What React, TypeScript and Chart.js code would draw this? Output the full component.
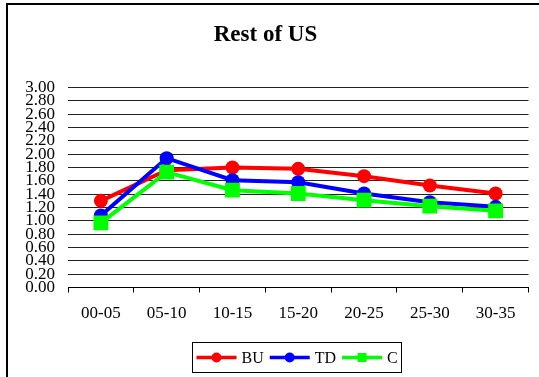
import React, { useEffect, useRef } from "react";
import { Chart, registerables } from "chart.js";

Chart.register(...registerables);

const chartTitle = "Rest of US";
const categories = ["00-05", "05-10", "10-15", "15-20", "20-25", "25-30", "30-35"];
const buValues = [1.3, 1.76, 1.8, 1.78, 1.67, 1.53, 1.41];
const tdValues = [1.08, 1.94, 1.61, 1.58, 1.41, 1.28, 1.21];
const cValues = [0.97, 1.73, 1.46, 1.41, 1.31, 1.22, 1.15];
const yTicks = [0, 0.2, 0.4, 0.6, 0.8, 1.0, 1.2, 1.4, 1.6, 1.8, 2.0, 2.2, 2.4, 2.6, 2.8, 3.0];

const SERIF = "'Liberation Serif', 'Times New Roman', serif";

const boxLegend = {
  id: "boxLegend",
  afterDraw(chart: any) {
    const ctx = chart.ctx as CanvasRenderingContext2D;
    const area = chart.chartArea;
    ctx.save();
    ctx.font = "16px " + SERIF;
    const items = chart.data.datasets.map((ds: any) => ({
      label: ds.label,
      color: ds.borderColor,
      style: ds.pointStyle,
    }));
    const sample = 40;
    const gapText = 5;
    const gapItem = 6;
    const padX = 4;
    const widths = items.map((it: any) => sample + gapText + ctx.measureText(it.label).width);
    const total =
      widths.reduce((a: number, b: number) => a + b, 0) + gapItem * (items.length - 1) + padX * 2;
    const boxX = Math.round((area.left + area.right) / 2 - total / 2) - 2 + 0.5;
    const boxY = 342.5;
    const boxH = 30;
    ctx.strokeStyle = "#000";
    ctx.lineWidth = 1;
    ctx.strokeRect(boxX, boxY, Math.round(total), boxH);
    let x = boxX + padX;
    const cy = boxY + boxH / 2;
    items.forEach((it: any, i: number) => {
      ctx.strokeStyle = it.color;
      ctx.lineWidth = 3.5;
      ctx.beginPath();
      ctx.moveTo(x, cy);
      ctx.lineTo(x + sample, cy);
      ctx.stroke();
      ctx.fillStyle = it.color;
      if (it.style === "rect") {
        ctx.fillRect(x + sample / 2 - 4.5, cy - 4.5, 9, 9);
      } else {
        ctx.beginPath();
        ctx.arc(x + sample / 2, cy, 5, 0, Math.PI * 2);
        ctx.fill();
      }
      ctx.fillStyle = "#000";
      ctx.textBaseline = "middle";
      ctx.textAlign = "left";
      ctx.fillText(it.label, x + sample + gapText, cy + 1);
      x += widths[i] + gapItem;
    });
    ctx.restore();
  },
};

export default function App() {
  const canvasRef = useRef<HTMLCanvasElement | null>(null);

  useEffect(() => {
    const canvas = canvasRef.current;
    if (!canvas) return;
    const chart = new Chart(canvas, {
      type: "line",
      data: {
        labels: categories,
        datasets: [
          {
            label: "BU",
            data: buValues,
            borderColor: "#FF0000",
            backgroundColor: "#FF0000",
            pointBackgroundColor: "#FF0000",
            pointBorderColor: "#FF0000",
            pointStyle: "circle",
            pointRadius: 7,
            pointBorderWidth: 0,
            borderWidth: 4,
            tension: 0,
            order: 2,
          },
          {
            label: "TD",
            data: tdValues,
            borderColor: "#0000FF",
            backgroundColor: "#0000FF",
            pointBackgroundColor: "#0000FF",
            pointBorderColor: "#0000FF",
            pointStyle: "circle",
            pointRadius: 7,
            pointBorderWidth: 0,
            borderWidth: 4,
            tension: 0,
            order: 1,
          },
          {
            label: "C",
            data: cValues,
            borderColor: "#00FF00",
            backgroundColor: "#00FF00",
            pointBackgroundColor: "#00FF00",
            pointBorderColor: "#00FF00",
            pointStyle: "rect",
            pointRadius: 10.5,
            pointBorderWidth: 0,
            borderWidth: 4,
            tension: 0,
            order: 0,
          },
        ],
      },
      options: {
        animation: false,
        responsive: false,
        maintainAspectRatio: false,
        layout: { padding: { left: 0, right: 8, top: 0, bottom: 50 } },
        plugins: {
          legend: { display: false },
          tooltip: { enabled: false },
          title: {
            display: true,
            text: chartTitle,
            color: "#000",
            font: { family: SERIF, size: 23, weight: "bold" },
            padding: { top: 21.6, bottom: 38.3 },
          },
        },
        scales: {
          x: {
            type: "category",
            offset: true,
            afterFit: (scale: any) => {
              scale.height = 39.5;
            },
            grid: {
              display: true,
              drawOnChartArea: false,
              drawTicks: true,
              tickLength: 5,
              offset: true,
              color: "#000",
            },
            border: { display: true, color: "#000", width: 1 },
            ticks: {
              color: "#000",
              font: { family: SERIF, size: 17 },
              padding: 11,
              maxRotation: 0,
              autoSkip: false,
            },
          },
          y: {
            type: "linear",
            min: 0,
            max: 3,
            afterFit: (scale: any) => {
              scale.width = 68;
            },
            afterBuildTicks: (scale: any) => {
              scale.ticks = yTicks.map((v) => ({ value: v }));
            },
            grid: {
              color: "#222",
              lineWidth: 1,
              drawTicks: false,
            },
            border: { display: false },
            ticks: {
              color: "#000",
              font: { family: SERIF, size: 17 },
              padding: 13,
              autoSkip: false,
              callback: (v: any) => Number(v).toFixed(2),
            },
          },
        },
      },
      plugins: [boxLegend],
    });
    return () => chart.destroy();
  }, []);

  return (
    <div
      style={{
        position: "absolute",
        left: 0,
        top: 0,
        width: 539,
        height: 377,
        overflow: "hidden",
        background: "#fff",
      }}
    >
      <div
        style={{
          position: "absolute",
          left: 6,
          top: 3,
          width: 700,
          height: 600,
          border: "2px solid #000",
        }}
      />
      <canvas
        ref={canvasRef}
        width={539}
        height={377}
        style={{ position: "absolute", left: 0, top: 0, width: 539, height: 377 }}
      />
    </div>
  );
}
